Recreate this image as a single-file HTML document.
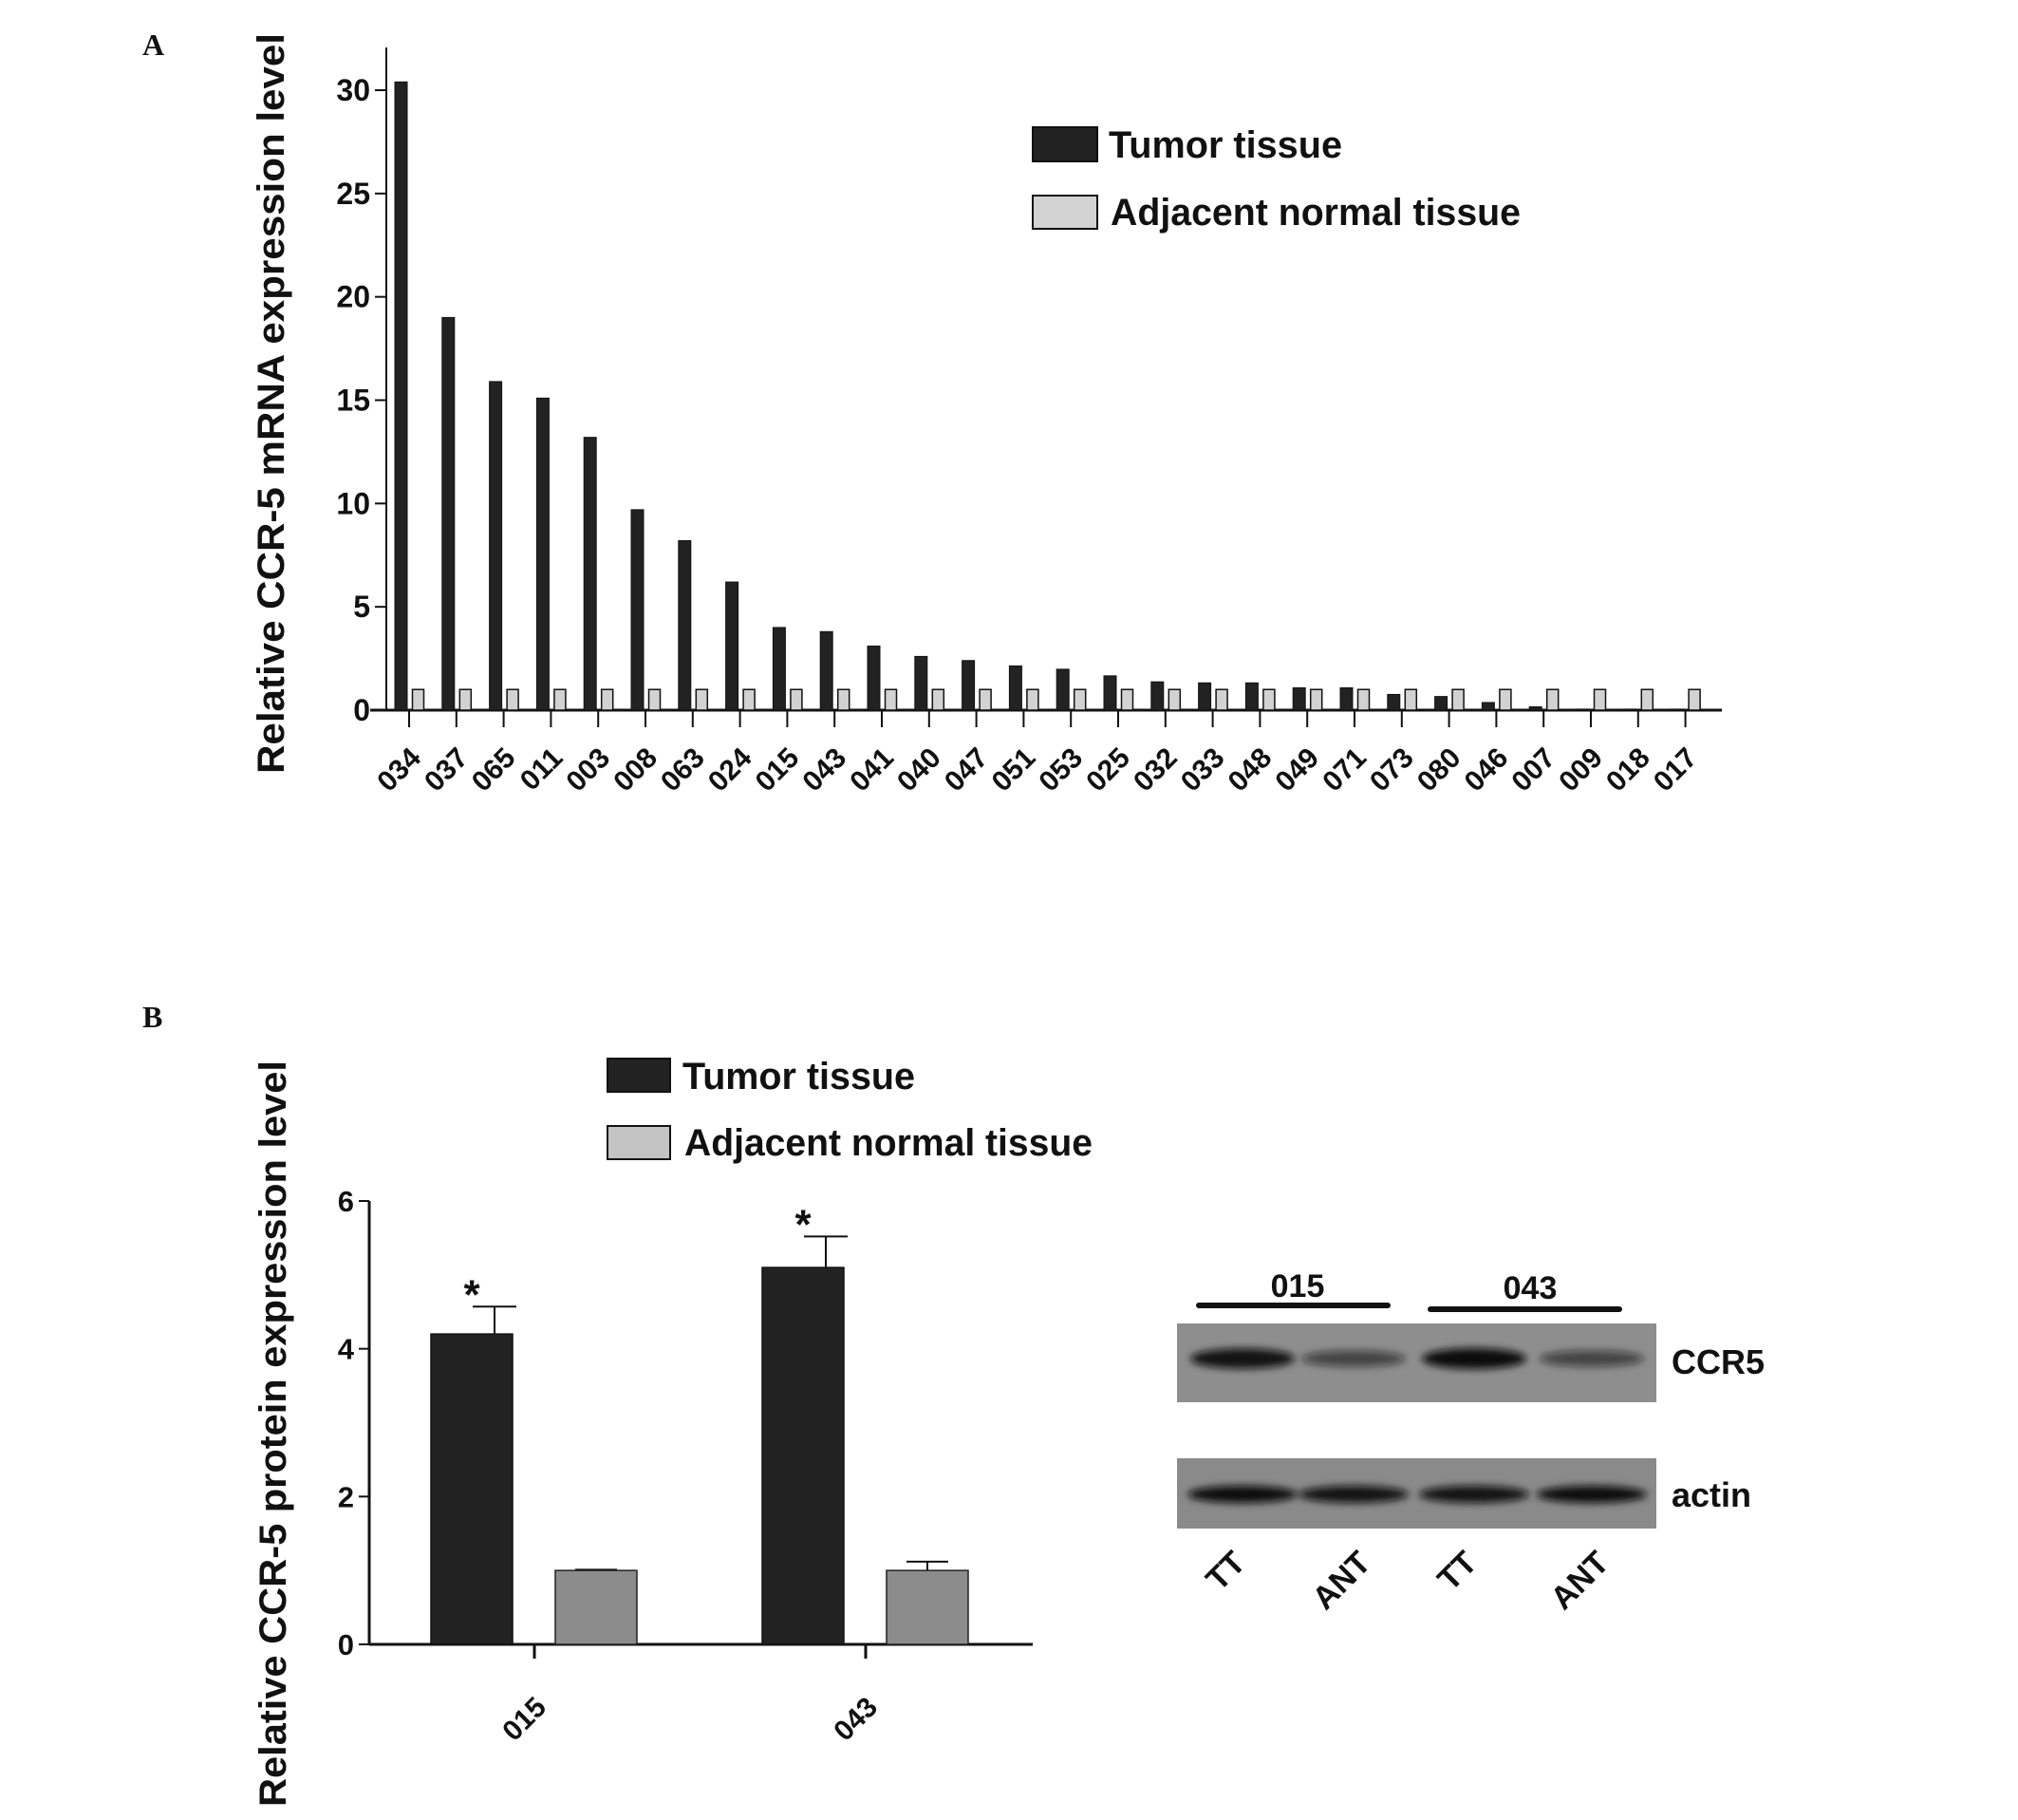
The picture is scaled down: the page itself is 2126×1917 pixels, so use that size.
<!DOCTYPE html>
<html><head><meta charset="utf-8"><style>
html,body{margin:0;padding:0;background:#fff;}
svg{display:block;}
text{font-family:"Liberation Sans",Arial,sans-serif;font-weight:bold;fill:#111;}
</style></head><body>
<svg id="fig" width="2126" height="1917" viewBox="0 0 2126 1917" xmlns="http://www.w3.org/2000/svg">
<defs><filter id="blur" x="-20%" y="-100%" width="140%" height="300%"><feGaussianBlur stdDeviation="4"/></filter></defs>
<text x="150" y="58" style="font-family:'Liberation Serif',serif;font-size:32px">A</text>
<text x="150" y="1082" style="font-family:'Liberation Serif',serif;font-size:32px">B</text>
<g id="chartA"></g>
<g id="chartB"></g>
<g id="blot" transform="translate(-18,0)"></g>
</svg>
<script>
const catsA=["034","037","065","011","003","008","063","024","015","043","041","040","047","051","053","025","032","033","048","049","071","073","080","046","007","009","018","017"];
const tumorA=[30.4,19.0,15.9,15.1,13.2,9.7,8.2,6.2,4.0,3.8,3.1,2.6,2.4,2.14,1.98,1.66,1.37,1.32,1.32,1.08,1.08,0.76,0.66,0.37,0.16,0.05,0.05,0.05];
const normalA=[1,1,1,1,1,1,1,1,1,1,1,1,1,1,1,1,1,1,1,1,1,1,1,1,1,1,1,1];
const ticksA=[0,5,10,15,20,25,30];
const catsB=["015","043"];
const tumorB=[4.2,5.1];
const tumorErrB=[0.37,0.42];
const normalB=[1.0,1.0];
const normalErrB=[0.01,0.12];
const ticksB=[0,2,4,6];
const lanes=["TT","ANT","TT","ANT"];
const ccr5Int=[0.95,0.6,1.0,0.6];
const actinInt=[1.0,0.95,0.95,1.0];
const NS="http://www.w3.org/2000/svg";
function mk(p,tag,attrs,txt){const e=document.createElementNS(NS,tag);for(const k in attrs)e.setAttribute(k,attrs[k]);if(txt!==undefined)e.textContent=txt;p.appendChild(e);return e;}

// Chart A
const A=document.getElementById('chartA');
const ax0=407,ay0=748,ayPer=(748-95)/30,firstTick=431,step=49.8;
const yA=v=>ay0-v*ayPer, xA=i=>firstTick+i*step;
let l=mk(A,'line',{x1:ax0,y1:50,x2:ax0,y2:ay0,stroke:'#111','stroke-width':2});

l=mk(A,'line',{x1:390,y1:ay0,x2:1814,y2:ay0,stroke:'#111','stroke-width':3});

ticksA.forEach(t=>{
  const tk=mk(A,'line',{x1:395,y1:yA(t),x2:ax0,y2:yA(t),stroke:'#111','stroke-width':2});
  
  const tl=mk(A,'text',{x:390,y:yA(t)+11,'text-anchor':'end','font-size':32},String(t));
  
});
catsA.forEach((c,i)=>{
  const x=xA(i);
  const tk=mk(A,'line',{x1:x,y1:ay0,x2:x,y2:766,stroke:'#111','stroke-width':2});
  
  const b=mk(A,'rect',{x:x-15,y:yA(tumorA[i]),width:13,height:ay0-yA(tumorA[i]),fill:'#222',stroke:'#111','stroke-width':1});
  
  const n=mk(A,'rect',{x:x+3.5,y:yA(normalA[i]),width:12,height:ay0-yA(normalA[i]),fill:'#d2d2d2',stroke:'#111','stroke-width':1.5});
  
  const tl=mk(A,'text',{x:x+14,y:800,'text-anchor':'end','font-size':30,transform:`rotate(-45 ${x+14} 800)`},c);
  
});
let t=mk(A,'text',{x:299,y:425,'text-anchor':'middle','font-size':40,textLength:780,lengthAdjust:'spacingAndGlyphs',transform:'rotate(-90 299 425)'},'Relative  CCR-5 mRNA expression level');

let r=mk(A,'rect',{x:1088,y:134,width:68,height:36,fill:'#222',stroke:'#111','stroke-width':2});

t=mk(A,'text',{x:1168,y:166,'font-size':40,textLength:246,lengthAdjust:'spacingAndGlyphs'},'Tumor tissue');

r=mk(A,'rect',{x:1088,y:206,width:68,height:35,fill:'#d2d2d2',stroke:'#111','stroke-width':2});

t=mk(A,'text',{x:1170,y:237,'font-size':40,textLength:432,lengthAdjust:'spacingAndGlyphs'},'Adjacent normal tissue');


// Chart B
const B=document.getElementById('chartB');
const bx0=389,by0=1732,byPer=(1732-1265)/6,tickB=[563,912];
const yB=v=>by0-v*byPer;
l=mk(B,'line',{x1:bx0,y1:yB(6),x2:bx0,y2:by0,stroke:'#111','stroke-width':3});

l=mk(B,'line',{x1:bx0,y1:by0,x2:1088,y2:by0,stroke:'#111','stroke-width':3});

ticksB.forEach(v=>{
  const tk=mk(B,'line',{x1:378,y1:yB(v),x2:bx0,y2:yB(v),stroke:'#111','stroke-width':2});
  
  const tl=mk(B,'text',{x:373,y:yB(v)+11,'text-anchor':'end','font-size':31},String(v));
  
});
catsB.forEach((c,i)=>{
  const x=tickB[i];
  const tk=mk(B,'line',{x1:x,y1:by0,x2:x,y2:1747,stroke:'#111','stroke-width':3});
  
  const et=mk(B,'path',{d:`M${x-65} ${yB(tumorB[i]+tumorErrB[i])}H${x-19}M${x-42} ${yB(tumorB[i]+tumorErrB[i])}V${yB(tumorB[i])}`,stroke:'#111','stroke-width':2,fill:'none'});
  
  const b=mk(B,'rect',{x:x-109,y:yB(tumorB[i]),width:86,height:by0-yB(tumorB[i]),fill:'#222',stroke:'#111','stroke-width':1.5});
  
  const en=mk(B,'path',{d:`M${x+43} ${yB(normalB[i]+normalErrB[i])}H${x+87}M${x+65} ${yB(normalB[i]+normalErrB[i])}V${yB(normalB[i])}`,stroke:'#111','stroke-width':2,fill:'none'});
  
  const n=mk(B,'rect',{x:x+22,y:yB(normalB[i]),width:86,height:by0-yB(normalB[i]),fill:'#8c8c8c',stroke:'#222','stroke-width':1.5});
  
  const s=mk(B,'text',{x:x-66,y:yB(tumorB[i]+tumorErrB[i])+2,'text-anchor':'middle','font-size':44},'*');
  
  const tl=mk(B,'text',{x:x+14,y:1800,'text-anchor':'end','font-size':30,transform:`rotate(-45 ${x+14} 1800)`},c);
  
});
t=mk(B,'text',{x:301,y:1510,'text-anchor':'middle','font-size':40,textLength:786,lengthAdjust:'spacingAndGlyphs',transform:'rotate(-90 301 1510)'},'Relative CCR-5 protein expression level');

r=mk(B,'rect',{x:640,y:1115,width:66,height:35,fill:'#222',stroke:'#111','stroke-width':2});

t=mk(B,'text',{x:719,y:1147,'font-size':40,textLength:245,lengthAdjust:'spacingAndGlyphs'},'Tumor tissue');

r=mk(B,'rect',{x:640,y:1186,width:66,height:35,fill:'#c4c4c4',stroke:'#111','stroke-width':2});

t=mk(B,'text',{x:721,y:1217,'font-size':40,textLength:430,lengthAdjust:'spacingAndGlyphs'},'Adjacent normal tissue');


// Western blot
const W=document.getElementById('blot');
const laneX=[1327,1444,1571,1695];
r=mk(W,'rect',{x:1258,y:1394,width:505,height:83,fill:'#8e8e8e'});

r=mk(W,'rect',{x:1258,y:1536,width:505,height:74,fill:'#8a8a8a'});

lanes.forEach((ln,i)=>{
  const cx=laneX[i];
  const b1=mk(W,'ellipse',{cx:cx,cy:1431,rx:55,ry:5+6*ccr5Int[i],fill:'#111','fill-opacity':ccr5Int[i],filter:'url(#blur)'});
  
  const b2=mk(W,'ellipse',{cx:cx,cy:1574,rx:58,ry:9,fill:'#111','fill-opacity':actinInt[i],filter:'url(#blur)'});
  
  const lx=cx+(ln==='TT'?5:20), ly=1648;
  const tl=mk(W,'text',{x:lx,y:ly,'text-anchor':'end','font-size':34,transform:`rotate(-45 ${lx} ${ly})`},ln);
  
});
l=mk(W,'line',{x1:1281,y1:1375,x2:1480,y2:1375,stroke:'#111','stroke-width':6,'stroke-linecap':'round'});

l=mk(W,'line',{x1:1525,y1:1379,x2:1724,y2:1379,stroke:'#111','stroke-width':6,'stroke-linecap':'round'});

t=mk(W,'text',{x:1385,y:1366,'text-anchor':'middle','font-size':34},'015');

t=mk(W,'text',{x:1630,y:1368,'text-anchor':'middle','font-size':34},'043');

t=mk(W,'text',{x:1779,y:1447,'font-size':36},'CCR5');

t=mk(W,'text',{x:1779,y:1587,'font-size':36},'actin');

</script>
</body></html>
